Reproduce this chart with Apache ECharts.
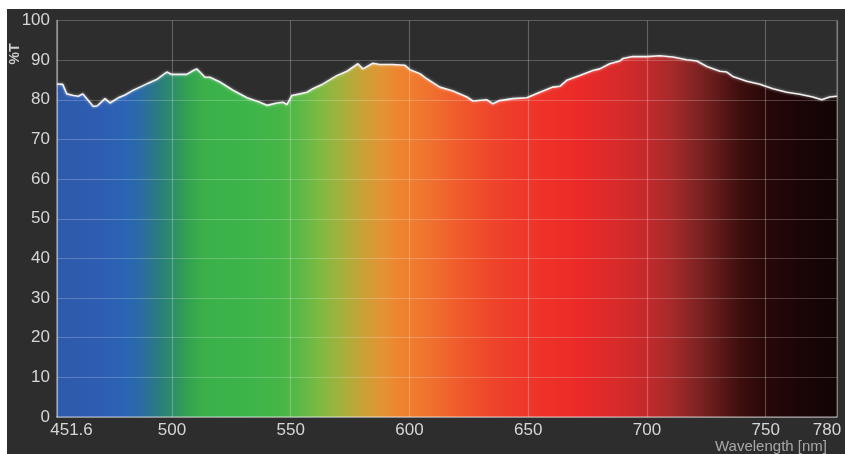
<!DOCTYPE html>
<html><head><meta charset="utf-8">
<script src="https://cdn.jsdelivr.net/npm/echarts@6/dist/echarts.min.js"></script>
<style>
html,body{margin:0;padding:0;background:#fff;width:845px;height:454px;overflow:hidden}
#bg{position:absolute;left:7px;top:9px;right:0;bottom:0;background:#2d2d2d}
#chart{position:absolute;left:0;top:0;width:845px;height:454px}
</style></head><body><div id="bg"></div><div id="chart"></div>
<script>
// Wavelength (nm) sample points
const wavelengths = [451.6,454.0,455.7,458.5,460.6,462.4,464.8,466.9,468.6,471.8,473.9,477.4,480.2,483.0,486.5,490.0,493.5,497.8,499.9,506.2,509.0,510.4,511.8,513.9,516.0,520.2,525.7,531.6,537.0,540.0,544.2,546.7,548.4,550.5,553.9,556.8,559.3,563.6,569.4,573.7,578.3,580.4,584.6,587.5,593.0,598.1,600.2,604.4,607.3,612.8,618.3,624.2,626.7,632.6,635.1,638.0,643.5,649.4,654.9,660.4,663.3,666.2,671.7,677.2,680.1,684.3,688.6,689.8,694.0,699.9,705.4,710.9,716.8,721.0,725.2,730.7,733.6,736.1,742.0,747.5,753.0,758.8,764.3,769.8,773.6,776.9,780];
// Transmittance (%T) at each wavelength
const transmittance = [84.0,83.9,81.5,81.1,80.9,81.5,79.8,78.3,78.5,80.3,79.2,80.5,81.2,82.2,83.2,84.2,85.1,87.0,86.4,86.4,87.4,87.8,87.0,85.7,85.7,84.5,82.4,80.5,79.4,78.6,79.2,79.4,78.8,81.1,81.5,81.9,82.8,84.0,86.1,87.2,89.1,87.8,89.2,88.9,88.9,88.7,87.6,86.6,85.3,83.2,82.2,80.7,79.7,80.0,79.0,79.8,80.3,80.5,81.9,83.2,83.4,84.9,86.1,87.4,87.8,89.1,89.8,90.4,90.9,90.9,91.1,90.8,90.1,89.8,88.4,87.2,87.0,85.9,84.7,83.9,82.8,81.9,81.4,80.7,80.0,80.7,80.9];
const xTickLabels = [451.6,500,550,600,650,700,750,780];
const yMin = 0, yMax = 100, yStep = 10;
const xMin = 451.6, xMax = 780;

// spectrum colour style (wavelength -> colour)
const spectrumStyle = [
  [451.6,'#2e5aaa'],[470,'#2d5db2'],[480,'#2b64b4'],[486,'#2a6aa6'],[493,'#2a7886'],
  [500,'#2c8c68'],[506,'#33a052'],[513,'#3bb04a'],[530,'#3cb44a'],[546,'#46b646'],[554,'#5cb846'],
  [562,'#7dba42'],[571,'#a2b23c'],[579,'#c4a438'],[588,'#e29434'],[596,'#ee8430'],
  [609,'#f0702e'],[622,'#f0582c'],[638,'#ee402a'],[655,'#ee3228'],[672,'#ea2a28'],
  [689,'#d62a2a'],[700,'#c22a2c'],[710,'#a82a2a'],[722,'#7d2222'],[731,'#5c1818'],
  [739,'#3e0e0e'],[750,'#280808'],[764,'#1c0506'],[780,'#120405']
];

const chart = echarts.init(document.getElementById('chart'), null, {renderer:'canvas'});
const stops = spectrumStyle.map(([w,c]) => ({offset:(w - xMin)/(xMax - xMin), color:c}));
const font = "'Liberation Sans', Arial, sans-serif";
const labelColor = '#d6d6d6';

chart.setOption({
  backgroundColor: 'transparent',
  animation: false,
  grid: {left: 57, right: 8, top: 20.5, bottom: 37},
  xAxis: {
    type: 'value', min: xMin, max: xMax, z: 3,
    axisLine: {show: true, lineStyle: {color: 'rgba(255,255,255,0.45)', width: 1.5}},
    axisTick: {show: false, customValues: xTickLabels},
    splitLine: {show: true, lineStyle: {color: 'rgba(255,255,255,0.25)', width: 1.2}},
    axisLabel: {
      customValues: xTickLabels, margin: 5,
      color: labelColor, fontSize: 17, fontFamily: font,
      formatter: v => v === xMin ? '{a|' + v + '}' : (v === xMax ? '{b|' + v + '}' : String(v)),
      rich: {
        a: {padding: [0,0,0,29], color: labelColor, fontSize: 17, fontFamily: font},
        b: {padding: [0,20,0,0], color: labelColor, fontSize: 17, fontFamily: font}
      }
    }
  },
  yAxis: {
    type: 'value', min: yMin, max: yMax, interval: yStep, z: 3,
    axisLine: {show: true, lineStyle: {color: 'rgba(255,255,255,0.45)', width: 1.5}},
    axisTick: {show: false},
    splitLine: {show: true, lineStyle: {color: 'rgba(255,255,255,0.22)', width: 1.2}},
    axisLabel: {margin: 7, color: labelColor, fontSize: 17, fontFamily: font}
  },
  graphic: [
    {type:'text', x: 15, y: 54, rotation: Math.PI/2,
     style: {text: '%T', fill: '#cfcfcf', font: "bold 14px 'Liberation Sans', Arial, sans-serif", align:'center', verticalAlign:'middle'}},
    {type:'text', x: 771, y: 447,
     style: {text: 'Wavelength [nm]', fill: '#a8a8a8', font: "15px 'Liberation Sans', Arial, sans-serif", align:'center', verticalAlign:'middle'}},
    {type:'rect', shape:{x:837, y:20.5, width:0, height:396.5}, style:{stroke:'rgba(255,255,255,0.25)', lineWidth:1.5}, z: 10}
  ],
  series: [{
    type: 'line',
    data: wavelengths.map((w,i) => [w, transmittance[i]]),
    symbol: 'none',
    z: 2,
    lineStyle: {color: '#f2f2f2', width: 1.6, shadowColor: 'rgba(255,255,255,0.6)', shadowBlur: 3},
    areaStyle: {opacity: 1, color: new echarts.graphic.LinearGradient(0,0,1,0, stops)}
  }]
});
</script></body></html>
